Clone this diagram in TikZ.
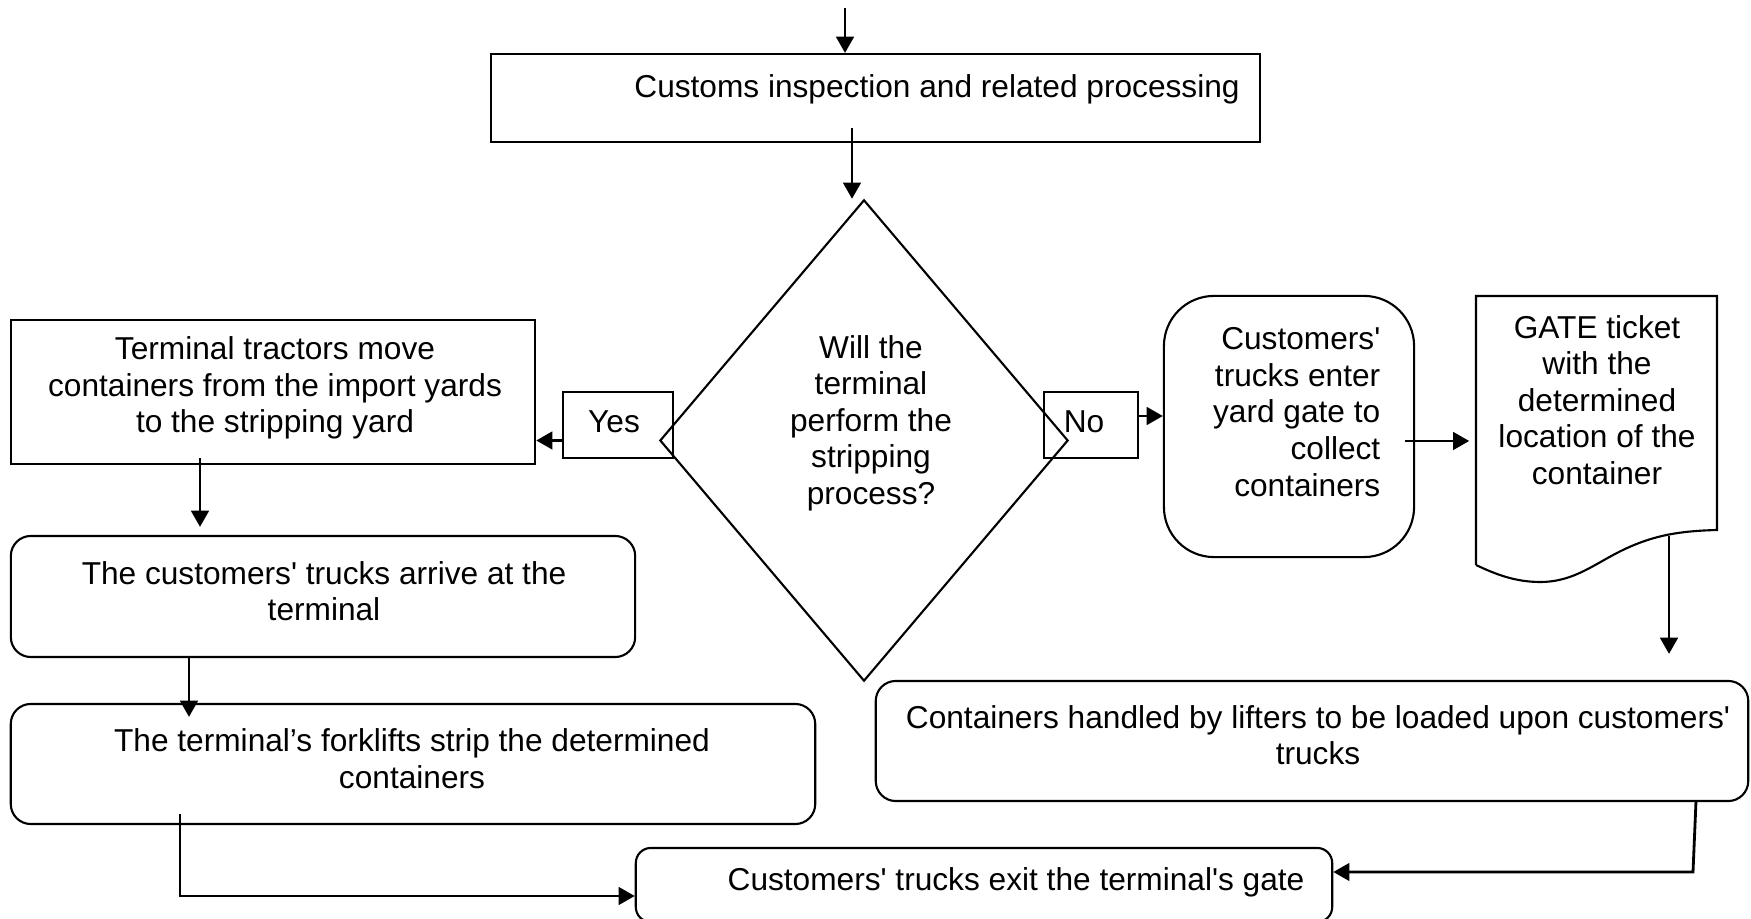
\documentclass[tikz,border=0pt]{standalone}
\usepackage{fontspec}
\setmainfont{Liberation Sans}[Ligatures=TeXOff]
\usetikzlibrary{shapes.geometric,arrows.meta}
\newcommand\flowfont{\fontsize{9}{10.4}\selectfont}
\tikzset{
  base/.style={draw, line width=0.6pt, inner sep=0pt},
  procbox/.style={base, rectangle},
  roundbox/.style={base, rectangle, rounded corners=0.2cm},
  decision/.style={base, diamond},
  lbl/.style={align=center, inner sep=0pt, font=\flowfont},
  arr/.style={line width=0.8pt, -{Triangle[length=4.6pt,width=5pt]}},
  conn/.style={line width=0.8pt}
}
\begin{document}
\begin{tikzpicture}[x=0.01cm, y=-0.01cm]
\useasboundingbox (0,0) rectangle (1751,919);
\clip (0,0) rectangle (1751,919);

% customs step
\node[procbox, minimum width=7.69cm, minimum height=0.88cm] (customs) at (875.5,98) {};
\node[lbl] (customsT) at (937,89) {Customs inspection and related processing};

% decision
\node[decision, minimum width=4.08cm, minimum height=4.81cm] (dec) at (864,440.5) {};
\node[lbl] (decT) at (871,423) {Will the\\terminal\\perform the\\stripping\\process?};
\node[procbox, minimum width=1.10cm, minimum height=0.66cm] (yes) at (618,425) {};
\node[lbl] (yesT) at (614,422) {Yes};
\node[procbox, minimum width=0.94cm, minimum height=0.66cm] (no) at (1091,425) {};
\node[lbl] (noT) at (1084,422) {No};

% stripping branch
\node[procbox, minimum width=5.24cm, minimum height=1.44cm] (tractors) at (273,392) {};
\node[lbl] (tractorsT) at (275,388) {Terminal tractors move\\containers from the import yards\\to the stripping yard};
\node[roundbox, minimum width=6.24cm, minimum height=1.21cm] (arrival) at (323,596.5) {};
\node[lbl] (arrivalT) at (324,591) {The customers' trucks arrive at the\\terminal};
\node[roundbox, minimum width=8.04cm, minimum height=1.20cm] (forklift) at (413,764) {};
\node[lbl] (forkliftT) at (412,758.5) {The terminal’s forklifts strip the determined\\containers};

% customer pickup branch
\node[roundbox, rounded corners=0.5cm, minimum width=2.50cm, minimum height=2.61cm] (enter) at (1289,426.5) {};
\node[lbl, align=right, anchor=east] (enterT) at (1381,412) {Customers'\\trucks enter\\yard gate to\\collect\\containers};

% gate ticket document
\coordinate (tkNW) at (1476,296);
\coordinate (tkNE) at (1717,296);
\draw[line width=0.6pt] (1476,565) -- (tkNW) -- (tkNE) -- (1717,530)
  .. controls (1680,531) and (1655,535) .. (1625,549)
  .. controls (1595,563) and (1575,582) .. (1540,582)
  .. controls (1515,582) and (1495,574) .. (1476,565);
\node[inner sep=0pt, minimum width=2.41cm, minimum height=2.50cm] (ticket) at (1596.5,421) {};
\node[lbl] (ticketT) at (1597,400) {GATE ticket\\with the\\determined\\location of the\\container};

\node[roundbox, minimum width=8.72cm, minimum height=1.20cm] (lifters) at (1312,741) {};
\node[lbl] (liftersT) at (1318,735) {Containers handled by lifters to be loaded upon customers'\\trucks};

% exit
\node[roundbox, rounded corners=0.15cm, minimum width=6.96cm, minimum height=0.74cm] (exit) at (984,885) {};
\node[lbl] (exitT) at (1016,882) {Customers' trucks exit the terminal's gate};

% connectors
\coordinate (start) at (845,8);
\draw[arr] (start) -- (start |- customs.north);
\coordinate (c1) at (852,128);
\draw[arr] (c1) -- (c1 |- dec.north);
\draw[arr] (yes.west |- dec.west) -- (tractors.east |- dec.west);
\draw[arr] ([yshift=0.09cm]no.east) -- ([yshift=0.09cm]no.east -| enter.west);
\coordinate (c2) at (200,458);
\draw[arr, shorten >=0.08cm] (c2) -- (c2 |- arrival.north);
\coordinate (c3) at (189,657);
\draw[arr, shorten >=-0.14cm] (c3) -- (c3 |- forklift.north);
\coordinate (c4) at (180,814);
\draw[arr] (c4) |- ([yshift=-0.11cm]exit.west);
\coordinate (c5) at (1405,441);
\draw[arr, shorten >=0.06cm] (c5) -- (c5 -| ticket.west);
\coordinate (c6) at (1669,536);
\draw[arr, shorten >=0.26cm] (c6) -- (c6 |- lifters.north);
\coordinate (c7) at (1696,801);
\coordinate (c8) at (1693,872);
\draw[arr] (c7) -- (c8) -- (c8 -| exit.east);
\end{tikzpicture}
\end{document}
